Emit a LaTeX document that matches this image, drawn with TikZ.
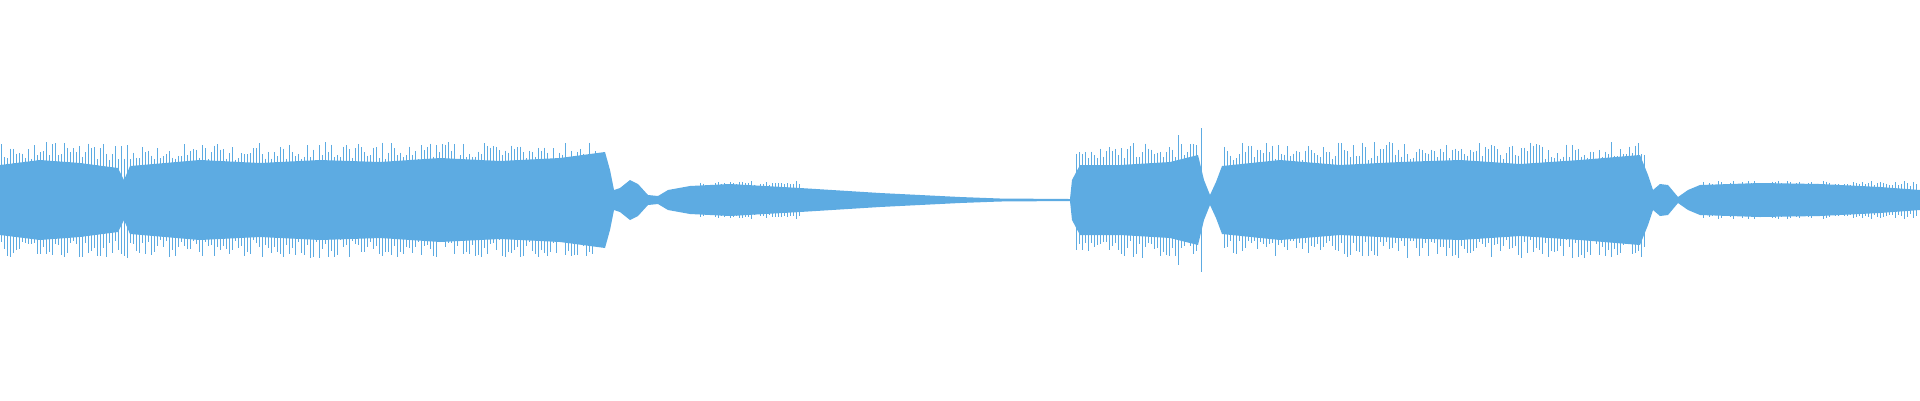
\documentclass[tikz,border=0pt]{standalone}
\definecolor{wave}{RGB}{93,171,226}
\begin{document}
\begin{tikzpicture}[x=0.1mm,y=0.1mm,spike/.style={draw=wave,line width=0.15pt}]
\pgfmathsetseed{7}
\useasboundingbox (0,-200) rectangle (1920,200);
\fill[wave] (0,35) -- (40,40) -- (80,37) -- (118,32) -- (124,20) -- (130,34) -- (200,40) -- (260,37) -- (320,40) -- (380,38) -- (440,42) -- (500,39) -- (560,42) -- (605,48) -- (610,30) -- (614,10) -- (620,12) -- (630,20) -- (638,16) -- (648,5) -- (658,4) -- (668,10) -- (690,14) -- (730,16) -- (800,12) -- (880,7) -- (960,3) -- (1000,1.5) -- (1070,1) -- (1072,20) -- (1080,35) -- (1120,35) -- (1170,38) -- (1198,45) -- (1204,20) -- (1210,5) -- (1216,18) -- (1222,34) -- (1280,40) -- (1340,35) -- (1400,38) -- (1460,40) -- (1520,36) -- (1580,40) -- (1640,45) -- (1648,25) -- (1653,10) -- (1660,16) -- (1668,15) -- (1678,3) -- (1688,10) -- (1700,15) -- (1760,17) -- (1820,16) -- (1880,13) -- (1920,10)
-- (1920,-10) -- (1880,-13) -- (1820,-16) -- (1760,-17) -- (1700,-15) -- (1688,-10) -- (1678,-3) -- (1668,-15) -- (1660,-16) -- (1653,-10) -- (1648,-25) -- (1640,-45) -- (1580,-40) -- (1520,-36) -- (1460,-40) -- (1400,-38) -- (1340,-35) -- (1280,-40) -- (1222,-34) -- (1216,-18) -- (1210,-5) -- (1204,-20) -- (1198,-45) -- (1170,-38) -- (1120,-35) -- (1080,-35) -- (1072,-20) -- (1070,-1) -- (1000,-1.5) -- (960,-3) -- (880,-7) -- (800,-12) -- (730,-16) -- (690,-14) -- (668,-10) -- (658,-4) -- (648,-5) -- (638,-16) -- (630,-20) -- (620,-12) -- (614,-10) -- (610,-30) -- (605,-48) -- (560,-42) -- (500,-39) -- (440,-42) -- (380,-38) -- (320,-40) -- (260,-37) -- (200,-40) -- (130,-34) -- (124,-20) -- (118,-32) -- (80,-37) -- (40,-40) -- (0,-35) -- cycle;
\foreach \x in {1,4,...,604}{
  \pgfmathsetmacro{\a}{40+rnd*18}
  \pgfmathsetmacro{\b}{40+rnd*18}
  \draw[spike] (\x,\a) -- (\x,-\b);}
\foreach \x in {1076,1079,...,1198,1224,1227,...,1644}{
  \pgfmathsetmacro{\a}{40+rnd*18}
  \pgfmathsetmacro{\b}{40+rnd*18}
  \draw[spike] (\x,\a) -- (\x,-\b);}
\foreach \x in {700,703,...,800,1700,1703,...,1918}{
  \pgfmathsetmacro{\a}{14+rnd*5}
  \draw[spike] (\x,\a) -- (\x,-\a);}
\draw[spike] (1201,72) -- (1201,-72);
\draw[spike] (1178,65) -- (1178,-65);
\end{tikzpicture}
\end{document}
